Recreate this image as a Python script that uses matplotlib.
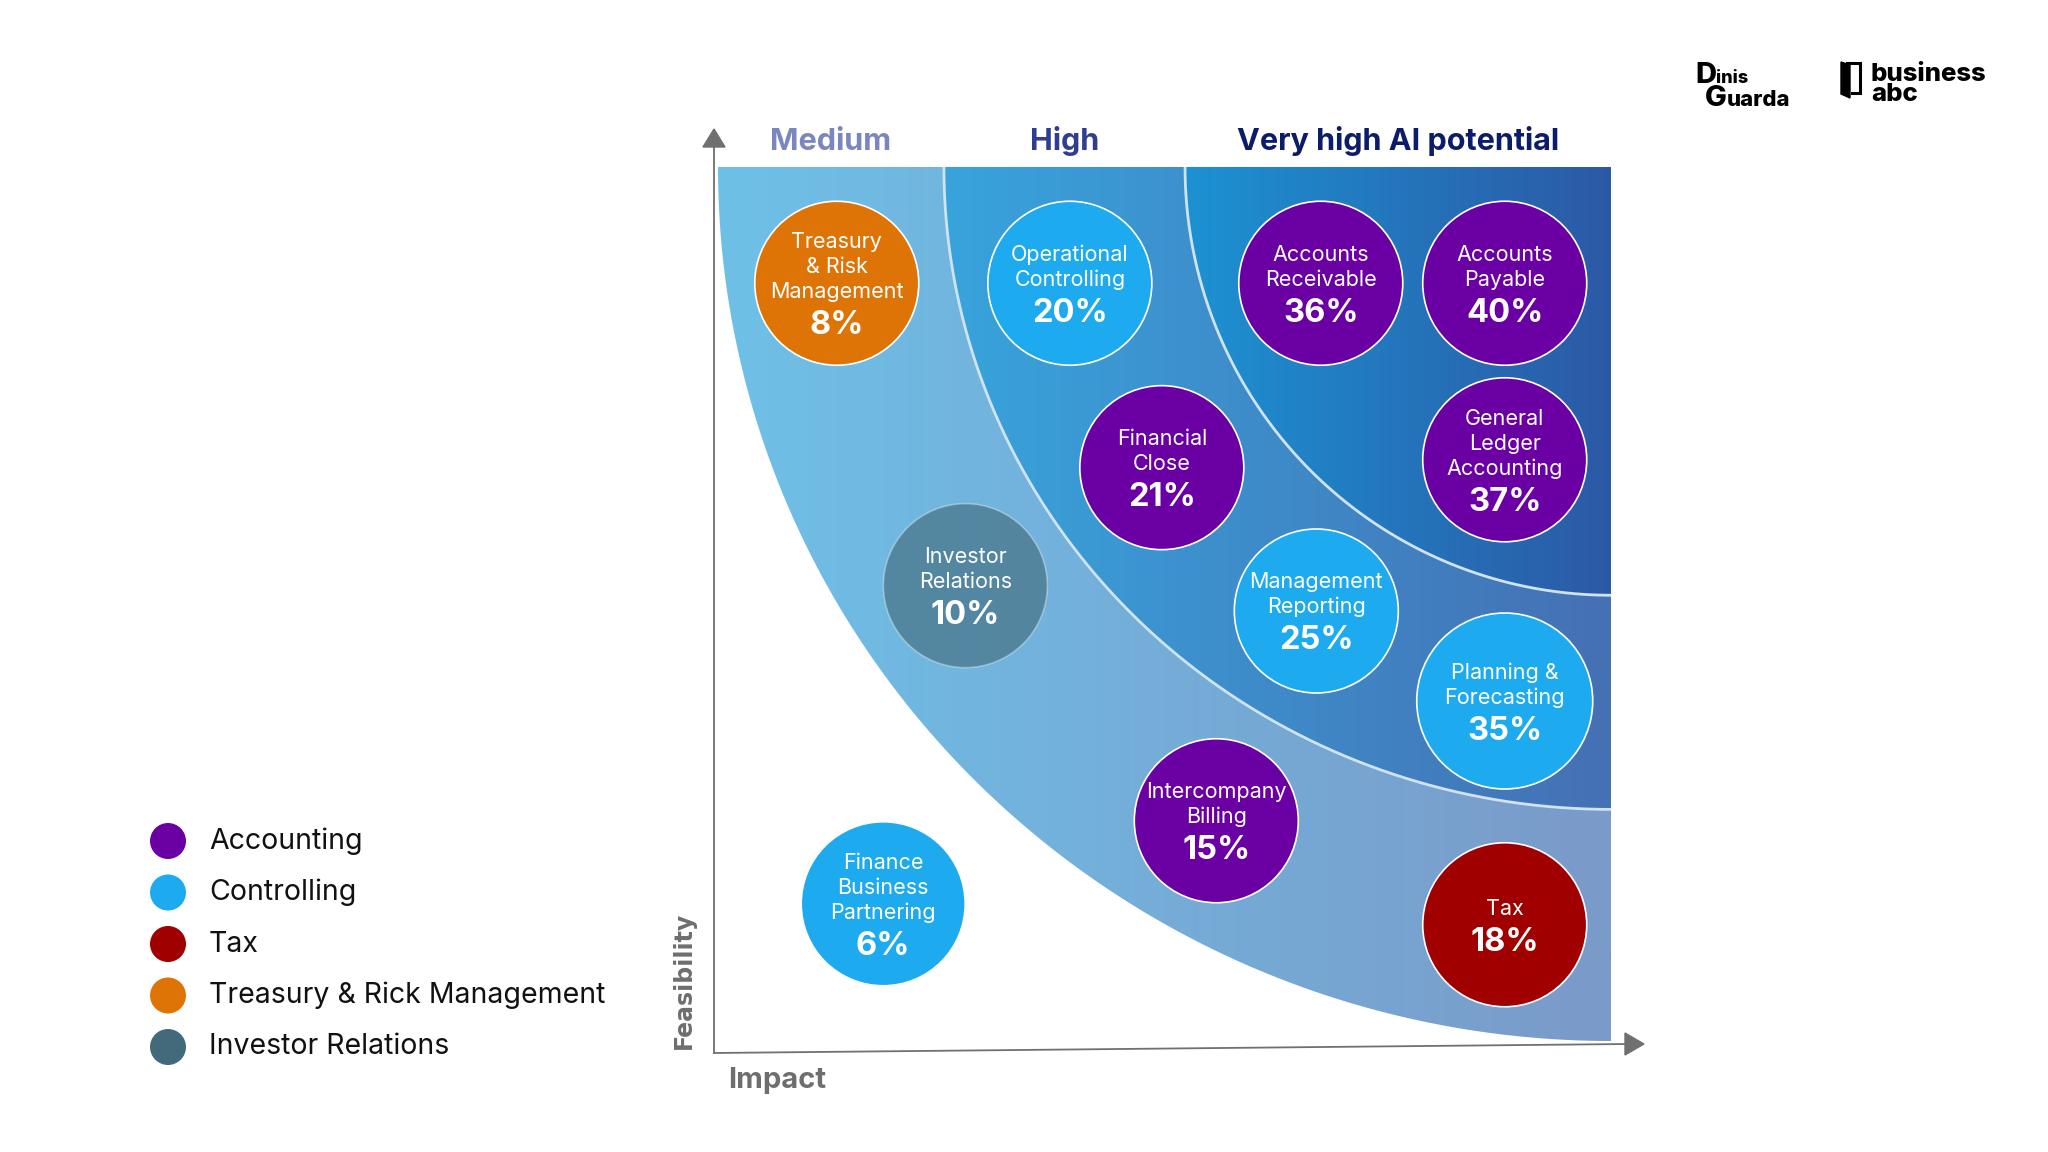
import numpy as np
import matplotlib
matplotlib.use("Agg")
import matplotlib.pyplot as plt
from matplotlib.patches import Polygon
from matplotlib.colors import to_rgb, to_rgba

plt.rcParams['font.family'] = ['Inter', 'DejaVu Sans']

# ---------------- data ----------------
bubble_names = ["Treasury\n& Risk\nManagement", "Operational\nControlling", "Accounts\nReceivable",
                "Accounts\nPayable", "General\nLedger\nAccounting", "Financial\nClose",
                "Investor\nRelations", "Management\nReporting", "Planning &\nForecasting",
                "Intercompany\nBilling", "Finance\nBusiness\nPartnering", "Tax"]
bubble_pct = [8, 20, 36, 40, 37, 21, 10, 25, 35, 15, 6, 18]
bubble_impact = [13.3, 39.4, 67.5, 88.1, 88.1, 49.7, 27.7, 67.0, 88.1, 55.8, 18.5, 88.1]
bubble_feasibility = [86.7, 86.7, 86.7, 86.7, 66.5, 65.6, 52.1, 49.2, 38.9, 25.2, 15.7, 13.3]
bubble_category = ["Treasury & Rick Management", "Controlling", "Accounting", "Accounting",
                   "Accounting", "Accounting", "Investor Relations", "Controlling",
                   "Controlling", "Accounting", "Controlling", "Tax"]
bubble_radius_px = [82, 82, 82, 82, 82, 82, 82, 82, 88, 82, 82, 82]

categories = ["Accounting", "Controlling", "Tax", "Treasury & Rick Management", "Investor Relations"]
category_colors = ["#6A00A3", "#1DAAEE", "#A00000", "#DE7405", "#426A7A"]

zone_labels = ["Medium", "High", "Very high AI potential"]
zone_label_colors = ["#7A86BE", "#2F3E8E", "#0B1C6B"]
zone_rx = [100.0, 74.7, 47.7]
zone_ry = [100.0, 73.5, 49.0]
zone_grad = [("#6EC0E7", "#7B9AC9"), ("#38A4DC", "#4570B4"), ("#1C92D2", "#2C59A6")]

# ---------------- figure ----------------
W, H = 2048, 1152
fig = plt.figure(figsize=(W / 100, H / 100), dpi=100)
bg = fig.add_axes([0, 0, 1, 1])
bg.set_xlim(0, W)
bg.set_ylim(H, 0)
bg.axis('off')

PX = 0.72  # points per pixel
pl, pr, pt, pb = 718, 1611, 167, 1041
ax = fig.add_axes([pl / W, (H - pb) / H, (pr - pl) / W, (pb - pt) / H])
ax.axis('off')

cmap_idx = {c: i for i, c in enumerate(categories)}


def arc(rx, ry, n=400):
    t = np.linspace(np.pi, 1.5 * np.pi, n)
    return 100 + rx * np.cos(t), 100 + ry * np.sin(t)


for i, (rx, ry) in enumerate(zip(zone_rx, zone_ry)):
    c1, c2 = np.array(to_rgb(zone_grad[i][0])), np.array(to_rgb(zone_grad[i][1]))
    tt = np.linspace(0, 1, 256)[None, :, None]
    img = c1 + (c2 - c1) * tt
    im = ax.imshow(img, extent=(100 - rx, 100, 0, 100), aspect='auto', origin='lower',
                   interpolation='bilinear', zorder=1 + i * 0.1)
    xs, ys = arc(rx, ry)
    poly = Polygon(np.column_stack([np.r_[100, xs], np.r_[100, ys]]), closed=True,
                   transform=ax.transData, facecolor='none', edgecolor='none')
    ax.add_patch(poly)
    im.set_clip_path(poly)
    if i > 0:
        ax.plot(xs, ys, color='#CFE3F3', lw=2.0, zorder=2, solid_capstyle='butt')

ax.set_xlim(0, 100)
ax.set_ylim(0, 100)

# bubbles
face = []
edge = []
for cat in bubble_category:
    col = category_colors[cmap_idx[cat]]
    if cat == "Investor Relations":
        face.append(to_rgba(col, 0.62))
        edge.append(to_rgba('white', 0.35))
    else:
        face.append(to_rgba(col, 1.0))
        edge.append(to_rgba('white', 1.0))
sizes = [(2 * r * PX) ** 2 for r in bubble_radius_px]
ax.scatter(bubble_impact, bubble_feasibility, s=sizes, c=face, edgecolors=edge,
           linewidths=1.2, zorder=3, clip_on=False)

name_cap, name_step, pct_step = 16, 25, 36
for name, pct, x, y in zip(bubble_names, bubble_pct, bubble_impact, bubble_feasibility):
    lines = name.split("\n")
    n = len(lines)
    Hb = name_cap + (n - 1) * name_step + pct_step
    top = -Hb / 2
    for k, ln in enumerate(lines):
        base = top + name_cap + k * name_step
        ax.annotate(ln, (x, y), xytext=(0, -base * PX), textcoords='offset points',
                    ha='center', va='baseline', color='white', fontsize=15.5, zorder=4,
                    annotation_clip=False)
    ax.annotate(f"{pct}%", (x, y), xytext=(0, -(Hb / 2) * PX), textcoords='offset points',
                ha='center', va='baseline', color='white', fontsize=23.5, fontweight='bold',
                zorder=4, annotation_clip=False)

# zone labels
lefts = [100 - r for r in zone_rx] + [100]
for i, lab in enumerate(zone_labels):
    xc = (lefts[i] + lefts[i + 1]) / 2
    ax.annotate(lab, (xc, 100), xytext=(0, (pt - 150) * PX), textcoords='offset points',
                ha='center', va='baseline', fontsize=22, fontweight='bold',
                color=zone_label_colors[i], annotation_clip=False)

# axes arrows
axis_col = '#707070'
bg.plot([714, 714], [1053, 145], color=axis_col, lw=1.3)
bg.add_patch(Polygon([[703, 147], [725, 147], [714, 129]], closed=True, color=axis_col))
bg.plot([714, 1627], [1053, 1044], color=axis_col, lw=1.3)
bg.add_patch(Polygon([[1625, 1033], [1625, 1055], [1644, 1044]], closed=True, color=axis_col))
bg.text(684, 980, "Feasibility", rotation=90, ha='center', va='center', fontsize=17,
        fontweight='bold', color='#6E6E6E', family='DejaVu Sans')
bg.text(728, 1088, "Impact", ha='left', va='baseline', fontsize=21, fontweight='bold',
        color='#6E6E6E')

# legend
for i, (cat, col) in enumerate(zip(categories, category_colors)):
    yy = 841 + i * 51.5
    bg.scatter([168], [yy], s=(36 * PX) ** 2, color=col, edgecolors='none')
    bg.text(209, yy, cat, ha='left', va='center', fontsize=20.5, color='#111111')

# logos
bg.text(1695, 83, "D", ha='left', va='baseline', fontsize=21, fontweight='heavy', color='black')
bg.text(1716, 83, "inis", ha='left', va='baseline', fontsize=13, fontweight='heavy', color='black')
bg.text(1705, 106, "G", ha='left', va='baseline', fontsize=21, fontweight='heavy', color='black')
bg.text(1727, 106, "uarda", ha='left', va='baseline', fontsize=16, fontweight='heavy', color='black')
bg.add_patch(Polygon([[1841, 62], [1850, 65], [1850, 98], [1841, 94]], closed=True, color='black'))
bg.plot([1847, 1860, 1860, 1852], [63, 63, 93, 93], color='black', lw=2.2, solid_joinstyle='miter')
bg.text(1871, 81, "business", ha='left', va='baseline', fontsize=18.5, fontweight='heavy', color='black')
bg.text(1871, 101, "abc", ha='left', va='baseline', fontsize=18.5, fontweight='heavy', color='black')

fig.savefig("out.png", dpi=100, facecolor='white')
